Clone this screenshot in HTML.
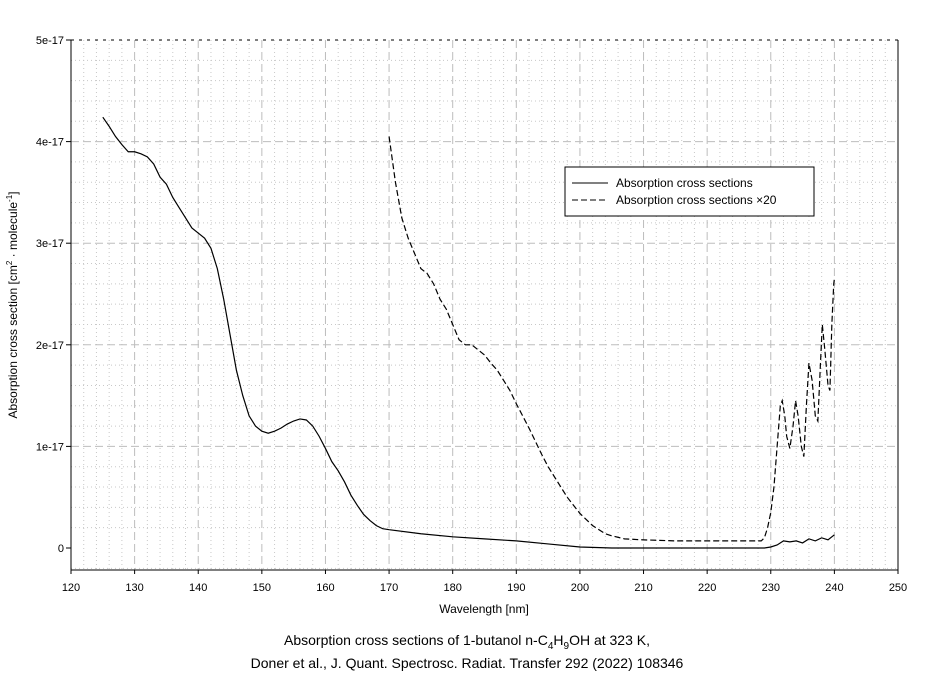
<!DOCTYPE html>
<html><head><meta charset="utf-8"><style>
body{margin:0;background:#fff;}
svg text{font-family:"Liberation Sans",sans-serif;fill:#000;}
</style></head><body>
<svg id="c" width="937" height="676" xmlns="http://www.w3.org/2000/svg">
<g id="grid"></g>
<g id="axes"></g>
<g id="series"></g>
<g>
<rect x="565" y="167" width="249" height="49" fill="#fff" stroke="#000" stroke-width="1"/>
<line x1="572" y1="183" x2="608" y2="183" stroke="#000"/>
<text x="616" y="187" font-size="12">Absorption cross sections</text>
<line x1="572" y1="200" x2="608" y2="200" stroke="#000" stroke-dasharray="6,3"/>
<text x="616" y="204" font-size="12">Absorption cross sections ×20</text>
</g>
<text x="484" y="613" font-size="12" text-anchor="middle">Wavelength [nm]</text>
<text transform="translate(17,305) rotate(-90)" font-size="12" text-anchor="middle">Absorption cross section [cm<tspan dy="-5" font-size="8">2</tspan><tspan dy="5"> · molecule</tspan><tspan dy="-5" font-size="8">-1</tspan><tspan dy="5">]</tspan></text>
<text x="467" y="645" font-size="14" text-anchor="middle">Absorption cross sections of 1-butanol n-C<tspan dy="4" font-size="10">4</tspan><tspan dy="-4">H</tspan><tspan dy="4" font-size="10">9</tspan><tspan dy="-4">OH at 323 K,</tspan></text>
<text x="467" y="668" font-size="14" text-anchor="middle">Doner et al., J. Quant. Spectrosc. Radiat. Transfer 292 (2022) 108346</text>
</svg>
<script>
const xTicks=[120,130,140,150,160,170,180,190,200,210,220,230,240,250];
const yTicks=[0,1,2,3,4,5];
const yTickLabels=["0","1e-17","2e-17","3e-17","4e-17","5e-17"];
const wlSolid=[125,126,127,128,129,130,131,132,133,134,135,136,137,138,139,140,141,142,143,144,145,146,147,148,149,150,151,152,153,154,155,156,157,158,159,160,161,162,163,164,165,166,167,168,169,170,175,180,185,190,195,200,205,229,230,231,232,233,234,235,236,237,238,239,240];
const valSolid=[4.24,4.15,4.05,3.97,3.9,3.9,3.88,3.85,3.78,3.65,3.58,3.45,3.35,3.25,3.15,3.1,3.05,2.95,2.75,2.45,2.1,1.75,1.5,1.3,1.2,1.15,1.13,1.15,1.18,1.22,1.25,1.27,1.26,1.2,1.1,0.98,0.85,0.76,0.65,0.52,0.42,0.33,0.27,0.22,0.19,0.18,0.14,0.11,0.09,0.07,0.04,0.01,0,0,0.01,0.03,0.07,0.06,0.07,0.05,0.09,0.07,0.1,0.08,0.13];
const wlDash=[170,171,172,173,174,175,176,177,178,179,180,181,182,183,184,185,186,187,188,189,190,191,192,193,194,195,196,197,198,199,200,201,202,203,204,205,207,210,215,220,225,228.5,229,229.5,230,230.5,231,231.5,231.8,232.2,232.5,233,233.5,233.9,234.3,234.8,235.2,235.6,236,236.5,237,237.4,237.8,238.1,238.5,239,239.3,239.6,239.9,240];
const valDash=[4.05,3.6,3.25,3.05,2.9,2.75,2.7,2.6,2.45,2.35,2.2,2.05,2.0,2.0,1.95,1.9,1.82,1.75,1.65,1.55,1.42,1.3,1.18,1.05,0.92,0.8,0.7,0.6,0.5,0.42,0.34,0.28,0.22,0.18,0.14,0.12,0.09,0.08,0.07,0.07,0.07,0.07,0.1,0.2,0.35,0.6,1.0,1.4,1.45,1.3,1.1,0.98,1.2,1.45,1.3,1.0,0.9,1.4,1.82,1.65,1.3,1.25,1.8,2.2,1.95,1.6,1.55,2.2,2.6,2.65];
const X0=71,X1=898,Y0=548,YT=40,YB=570;
const sx=v=>X0+(v-120)*(X1-X0)/130;
const sy=v=>Y0-v*(Y0-YT)/5;
const NS="http://www.w3.org/2000/svg";
function mk(tag,attrs,parent){const e=document.createElementNS(NS,tag);for(const k in attrs)e.setAttribute(k,attrs[k]);parent.appendChild(e);return e;}
const grid=document.getElementById('grid'),axes=document.getElementById('axes'),ser=document.getElementById('series');
for(let v=122;v<250;v+=2){if(v%10===0)continue;const l=mk('line',{x1:sx(v),x2:sx(v),y1:YT,y2:YB,stroke:'#c8c8c8','stroke-dasharray':'1,3'},grid);

}
for(let v=-0.2;v<5;v+=0.2){const r=Math.round(v*10)/10;if(Math.abs(r-Math.round(r))<0.01)continue;const l=mk('line',{x1:X0,x2:X1,y1:sy(r),y2:sy(r),stroke:'#c8c8c8','stroke-dasharray':'1,3'},grid);

}
xTicks.forEach(v=>{if(v>120&&v<250){const l=mk('line',{x1:sx(v),x2:sx(v),y1:YT,y2:YB,stroke:'#bdbdbd','stroke-dasharray':'8,4'},grid);

}
const t=mk('text',{x:sx(v),y:591,'font-size':11,'text-anchor':'middle'},axes);t.textContent=v;


mk('line',{x1:sx(v),x2:sx(v),y1:YB,y2:YB+4,stroke:'#000'},axes);});
yTicks.forEach((v,i)=>{if(v>0&&v<5){const l=mk('line',{x1:X0,x2:X1,y1:sy(v),y2:sy(v),stroke:'#bdbdbd','stroke-dasharray':'8,4'},grid);

}
mk('line',{x1:X0-5,x2:X0,y1:sy(v),y2:sy(v),stroke:'#000'},axes);
const t=mk('text',{x:X0-7,y:sy(v)+4,'font-size':11,'text-anchor':'end'},axes);t.textContent=yTickLabels[i];

});
mk('line',{x1:X0,x2:X1,y1:YT,y2:YT,stroke:'#000','stroke-dasharray':'3,5'},axes);
mk('line',{x1:X0,x2:X0,y1:YT,y2:YB,stroke:'#000'},axes);
mk('line',{x1:X0,x2:X1,y1:YB,y2:YB,stroke:'#000'},axes);
mk('line',{x1:X1,x2:X1,y1:YT,y2:YB,stroke:'#000'},axes);
const p1=mk('polyline',{points:wlSolid.map((w,i)=>sx(w)+','+sy(valSolid[i])).join(' '),fill:'none',stroke:'#000','stroke-width':1.2},ser);


const p2=mk('polyline',{points:wlDash.map((w,i)=>sx(w)+','+sy(valDash[i])).join(' '),fill:'none',stroke:'#000','stroke-width':1.2,'stroke-dasharray':'6,3'},ser);


</script>
</body></html>
